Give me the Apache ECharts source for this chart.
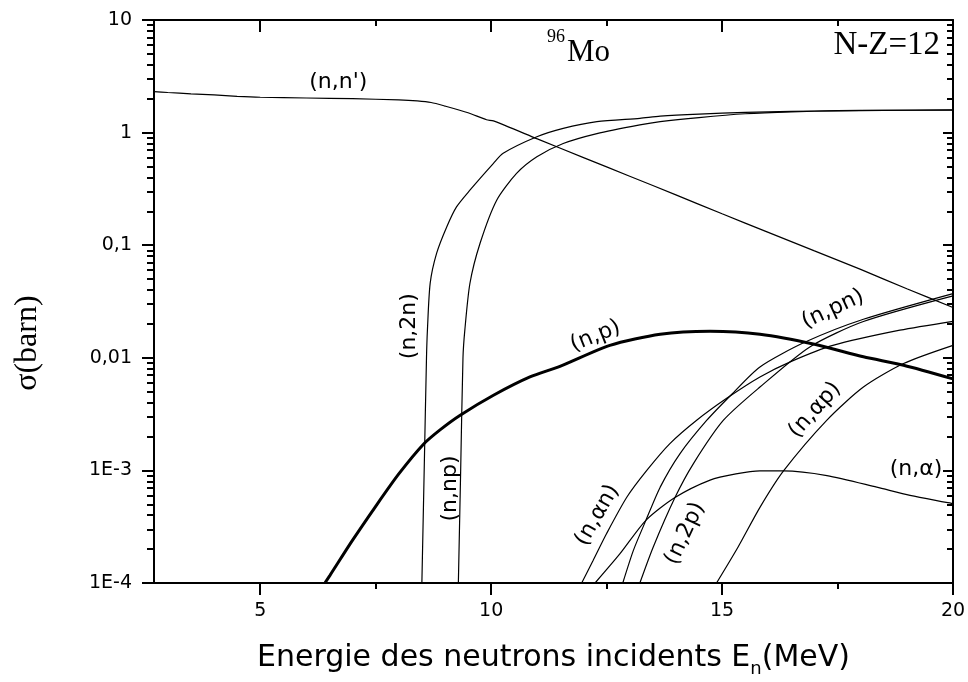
<!DOCTYPE html>
<html><head><meta charset="utf-8">
<script src="https://cdn.jsdelivr.net/npm/echarts@6/dist/echarts.min.js"></script>
<style>html,body{margin:0;padding:0;background:#fff}#c{width:968px;height:682px}</style>
</head><body><div id="c"></div>
<script>
// ---- data (energy MeV, cross-section barn) ----
const nnPrime = [[2.7,2.31],[3,2.27],[3.5,2.21],[4,2.16],[4.5,2.10],[5,2.06],[6,2.03],[7,2.0],[8,1.95],[8.4,1.91],[8.7,1.85],[9.0,1.72],[9.5,1.50],[9.9,1.30],[10.05,1.27],[11,0.88],[12,0.60],[13,0.41],[14,0.28],[15,0.19],[16,0.13],[17,0.089],[18,0.061],[19,0.041],[20,0.028]];
const n2n = [[8.50,1e-4],[8.55,1e-3],[8.60,0.01],[8.62,0.0176],[8.68,0.046],[8.82,0.085],[9.04,0.146],[9.25,0.219],[9.54,0.308],[10.05,0.533],[10.26,0.655],[10.99,0.918],[11.56,1.09],[12.29,1.25],[13.22,1.34],[13.66,1.40],[14.5,1.46],[15.5,1.51],[16.5,1.545],[17.5,1.565],[18.5,1.58],[20,1.59]];
const nnp = [[9.29,1e-4],[9.34,1e-3],[9.39,0.01],[9.43,0.0176],[9.54,0.0457],[9.76,0.104],[10.12,0.251],[10.55,0.434],[10.99,0.61],[11.56,0.80],[12.29,0.98],[13.22,1.17],[13.66,1.25],[14.5,1.36],[15.5,1.47],[16.5,1.53],[17.5,1.56],[18.5,1.575],[20,1.585]];
const np = [[6.40,1e-4],[6.51,1.17e-4],[7.0,2.4e-4],[7.5,4.8e-4],[8.0,9.3e-4],[8.53,1.7e-3],[8.9,2.3e-3],[9.33,3.09e-3],[10.05,4.65e-3],[10.84,6.76e-3],[11.49,8.4e-3],[12.57,0.0129],[13.66,0.0162],[14.74,0.0172],[15.82,0.0162],[17.0,0.0132],[18.06,0.0102],[18.93,0.0086],[20,0.0065]];
const nalphan = [[11.96,1e-4],[12.21,1.59e-4],[12.50,2.75e-4],[12.94,5.8e-4],[13.37,1.0e-3],[13.87,1.73e-3],[14.45,2.79e-3],[15.1,4.37e-3],[15.82,6.76e-3],[16.5,9.3e-3],[17.4,0.0129],[18.85,0.0176],[20,0.0211]];
const nalpha = [[12.25,1e-4],[12.79,1.82e-4],[13.35,3.6e-4],[13.98,5.74e-4],[14.74,8.2e-4],[15.3,9.3e-4],[15.82,9.9e-4],[16.33,9.9e-4],[17.27,9.0e-4],[18.35,7.1e-4],[19.07,6.0e-4],[20,5.07e-4]];
const npn = [[12.85,1e-4],[13.08,1.95e-4],[13.35,3.6e-4],[13.66,7.1e-4],[14.09,1.41e-3],[14.67,2.79e-3],[15.2,4.7e-3],[15.82,8.3e-3],[16.8,0.0138],[18.06,0.022],[20,0.0372]];
const n2p = [[13.22,1e-4],[13.51,2.09e-4],[13.98,5.74e-4],[14.38,1.15e-3],[15.03,2.79e-3],[15.82,5.5e-3],[16.9,0.0125],[18.06,0.021],[20,0.0355]];
const nalphap = [[14.88,1e-4],[15.35,2.1e-4],[15.82,4.7e-4],[16.33,9.9e-4],[17.27,2.8e-3],[18.06,5.5e-3],[18.93,8.9e-3],[20,0.0129]];

// ---- axes ----
const xMin = 2.7, xMax = 20;
const xMajor = [5,10,15,20];
const xMinor = [7.5,12.5,17.5];
const xLabels = ['5','10','15','20'];
const yMin = 1e-4, yMax = 10;
const yMajor = [1e-4,1e-3,0.01,0.1,1,10];
const yLabels = ['1E-4','1E-3','0,01','0,1','1','10'];
const yMinorMult = [2,3,4,5,6,7,8,9];
const yDecades = [1e-4,1e-3,0.01,0.1,1];
const yMinor = [];
yDecades.forEach(d => yMinorMult.forEach(m => yMinor.push(+(m*d).toPrecision(3))));

// ---- annotations: [text, E, sigma, rotationDeg] ----
const curveLabels = [
  ["(n,n')", 6.69, 2.78, 0],
  ["(n,2n)", 8.22, 0.0191, 90],
  ["(n,np)", 9.125, 6.9e-4, 90],
  ["(n,p)", 12.26, 0.01556, 22],
  ["(n,pn)", 17.40, 0.027, 25],
  ["(n,\u03b1n)", 12.30, 4.0e-4, 60],
  ["(n,2p)", 14.20, 2.75e-4, 65],
  ["(n,\u03b1p)", 17.01, 3.43e-3, 48],
  ["(n,\u03b1)", 19.2, 1.02e-3, 0]
];

const SANS = 'DejaVu Sans';
const SERIF = 'Liberation Serif';
const black = '#000';

function xAxisDef(pos, ticks, len, inside, showLine, showLabel) {
  return {
    type: 'value', position: pos, min: xMin, max: xMax,
    axisLine: {show: showLine, onZero: false, lineStyle: {color: black, width: 2}},
    axisTick: {show: true, inside: inside, length: len, customValues: ticks, lineStyle: {color: black, width: 2}},
    axisLabel: showLabel ? {show: true, customValues: xMajor, margin: 19, color: black, fontFamily: SANS, fontSize: 19,
      formatter: v => xLabels[xMajor.indexOf(v)] } : {show: false},
    splitLine: {show: false}
  };
}
function yAxisDef(pos, ticks, len, inside, showLine, showLabel) {
  return {
    type: 'log', logBase: 10, position: pos, min: yMin, max: yMax,
    axisLine: {show: showLine, onZero: false, lineStyle: {color: black, width: 2}},
    axisTick: {show: true, inside: inside, length: len, customValues: ticks, lineStyle: {color: black, width: 2}},
    axisLabel: showLabel ? {show: true, customValues: yMajor, margin: 22, color: black, fontFamily: SANS, fontSize: 19,
      formatter: v => { const i = yMajor.findIndex(m => Math.abs(Math.log10(m) - Math.log10(v)) < 1e-6); return i >= 0 ? yLabels[i] : ''; } } : {show: false},
    splitLine: {show: false}
  };
}

const xAxes = [
  xAxisDef('bottom', xMajor, 12, false, true, true),
  xAxisDef('bottom', xMinor, 6, false, false, false),
  xAxisDef('top', xMajor, 12, true, true, false),
  xAxisDef('top', xMinor, 6, true, false, false)
];
xAxes[0].name = 'Energie des neutrons incidents E{sub|n}(MeV)';
xAxes[0].nameLocation = 'middle';
xAxes[0].nameGap = 55;
xAxes[0].nameTextStyle = {
  color: black, fontFamily: SANS, fontSize: 30, lineHeight: 40,
  rich: {sub: {fontFamily: SANS, fontSize: 18, lineHeight: 14, verticalAlign: 'bottom', color: black}}
};

const yAxes = [
  yAxisDef('left', yMajor, 12, false, true, true),
  yAxisDef('left', yMinor, 7, false, false, false),
  yAxisDef('right', yMajor, 10, true, true, false),
  yAxisDef('right', yMinor, 6, true, false, false)
];

function lineSeries(name, data, width) {
  return {
    name: name, type: 'line', data: data, xAxisIndex: 0, yAxisIndex: 0,
    showSymbol: false, symbol: 'none', smooth: 0.25,
    lineStyle: {color: black, width: width}, emphasis: {disabled: true}, silent: true
  };
}

const chart = echarts.init(document.getElementById('c'), null, {renderer: 'canvas'});
chart.setOption({
  animation: false,
  backgroundColor: '#fff',
  grid: {left: 154, top: 20, right: 15, bottom: 99, outerBoundsMode: 'none', containLabel: false},
  xAxis: xAxes,
  yAxis: yAxes,
  series: [
    lineSeries("(n,n')", nnPrime, 1.2),
    lineSeries('(n,2n)', n2n, 1.2),
    lineSeries('(n,np)', nnp, 1.2),
    lineSeries('(n,p)', np, 3),
    lineSeries('(n,\u03b1n)', nalphan, 1.2),
    lineSeries('(n,\u03b1)', nalpha, 1.2),
    lineSeries('(n,pn)', npn, 1.2),
    lineSeries('(n,2p)', n2p, 1.2),
    lineSeries('(n,\u03b1p)', nalphap, 1.2)
  ]
});

const px = (e, s) => chart.convertToPixel({xAxisIndex: 0, yAxisIndex: 0}, [e, s]);
const graphics = curveLabels.map(([t, e, s, rot]) => {
  const p = px(e, s);
  return {type: 'text', x: p[0], y: p[1], rotation: rot * Math.PI / 180, silent: true,
    style: {text: t, font: '22px "' + SANS + '"', fill: black, align: 'center', verticalAlign: 'middle'}};
});
// title annotations inside the frame
const pMo = px(11.64, 5.09);
graphics.push({type: 'text', x: pMo[0], y: pMo[1], silent: true,
  style: {text: 'Mo', font: '31px "' + SERIF + '"', fill: black, align: 'left', verticalAlign: 'middle'}});
const p96 = px(11.60, 7.06);
graphics.push({type: 'text', x: p96[0], y: p96[1], silent: true,
  style: {text: '96', font: '18px "' + SERIF + '"', fill: black, align: 'right', verticalAlign: 'middle'}});
const pNZ = px(19.72, 6.0);
graphics.push({type: 'text', x: pNZ[0], y: pNZ[1], silent: true,
  style: {text: 'N-Z=12', font: '33px "' + SERIF + '"', fill: black, align: 'right', verticalAlign: 'middle'}});
// y-axis title (rotated, placed like the reference)
const pY = px(xMin, 0.0135);
graphics.push({type: 'text', x: pY[0] - 126, y: pY[1], rotation: Math.PI / 2, silent: true,
  style: {text: '\u03c3(barn)', font: '32px "' + SERIF + '"', fill: black, align: 'center', verticalAlign: 'middle'}});
chart.setOption({graphic: graphics});
</script></body></html>
